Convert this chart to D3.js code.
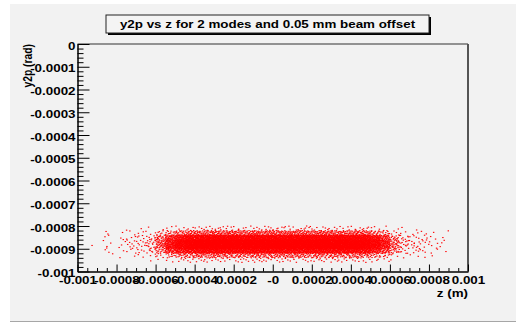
<!DOCTYPE html>
<html>
<head>
<meta charset="utf-8">
<script src="https://cdn.jsdelivr.net/npm/d3@7/dist/d3.min.js"></script>
<style>
  html, body { margin: 0; padding: 0; background: #ffffff; }
  svg { display: block; }
  text { font-family: "Liberation Sans", Arial, Helvetica, sans-serif; font-weight: bold; fill: #000; }
</style>
</head>
<body>
<svg id="chart" width="516" height="322"></svg>
<script>
// ---- chart texts ----
const titleText = "y2p vs z for 2 modes and 0.05 mm beam offset";
const xTitle = "z (m)";
const yTitle = "y2p (rad)";

// ---- axis ranges and ticks ----
const zDomain = [-0.001, 0.001];
const yDomain = [-0.001, 0];
const xMajorTicks = [-0.001, -0.0008, -0.0006, -0.0004, -0.0002, 0, 0.0002, 0.0004, 0.0006, 0.0008, 0.001];
const xTickLabels = ["-0.001", "-0.0008", "-0.0006", "-0.0004", "-0.0002", "-0", "0.0002", "0.0004", "0.0006", "0.0008", "0.001"];
const yMajorTicks = [0, -0.0001, -0.0002, -0.0003, -0.0004, -0.0005, -0.0006, -0.0007, -0.0008, -0.0009, -0.001];
const yTickLabels = ["0", "-0.0001", "-0.0002", "-0.0003", "-0.0004", "-0.0005", "-0.0006", "-0.0007", "-0.0008", "-0.0009", "-0.001"];

// ---- event counts in (z, y2p) cells ----
// z bin edges (m), 40 bins
const zBinEdges = [
  -0.001, -0.00095, -0.0009, -0.00085, -0.0008, -0.00075, -0.0007, -0.00065, -0.0006, -0.00055,
  -0.0005, -0.00045, -0.0004, -0.00035, -0.0003, -0.00025, -0.0002, -0.00015, -0.0001, -0.00005,
  0, 0.00005, 0.0001, 0.00015, 0.0002, 0.00025, 0.0003, 0.00035, 0.0004, 0.00045,
  0.0005, 0.00055, 0.0006, 0.00065, 0.0007, 0.00075, 0.0008, 0.00085, 0.0009, 0.00095, 0.001
];
// y2p bin edges (rad), 8 bins from bottom to top
const yBinEdges = [-0.00096, -0.00094, -0.00092, -0.0009, -0.00088, -0.00086, -0.00084, -0.00082, -0.0008];

// one row of counts per y2p bin, listed along z
const countsY095 = [0,0,0,0,0,0,0,1,1,2,3,4, 4,4,4,3,4,4,5,4,4,4,3,4,4,4,4,4,4, 4,3,2,1,0,0,0,0,0,0,0];
const countsY093 = [0,0,0,1,1,1,2,2,5,9,13,17, 18,18,19,18,17,18,19,18,18,19,18,18,17,18,18,17,17, 17,12,8,3,2,2,1,1,0,0,0];
const countsY091 = [0,0,1,1,1,3,4,6,15,33,50,61, 66,68,69,68,67,68,70,68,67,69,68,68,67,68,69,66,65, 63,46,30,12,5,3,3,2,1,0,0];
const countsY089 = [0,1,1,1,2,4,4,8,22,52,78,96, 104,107,108,108,107,107,109,108,107,108,108,107,107,108,107,105,104, 99,73,47,18,7,5,3,2,1,0,0];
const countsY087 = [0,0,1,1,1,4,5,8,23,52,78,96, 104,107,109,107,106,108,110,107,106,108,107,108,106,107,108,105,103, 99,73,47,18,7,5,4,2,2,0,0];
const countsY085 = [0,0,1,1,2,3,4,6,17,38,57,70, 76,78,79,78,77,78,80,78,77,79,78,78,77,78,79,76,75, 72,53,34,13,6,4,3,2,1,0,0];
const countsY083 = [0,0,1,1,1,2,2,3,6,12,18,22, 24,25,26,25,24,25,26,25,24,25,26,25,24,25,25,24,24, 23,17,11,4,2,2,2,1,1,0,0];
const countsY081 = [0,0,0,0,0,1,1,1,1,2,3,4, 4,4,5,4,4,3,4,5,4,4,4,5,4,4,4,3,4, 4,3,2,1,1,1,0,0,0,0,0];
const cellCounts = [countsY095, countsY093, countsY091, countsY089, countsY087, countsY085, countsY083, countsY081];

// ---- layout ----
const svg = d3.select("#chart");
const plot = { left: 77.5, right: 468, top: 44, bottom: 271.5 };
const textStretch = 1.3;

const x = d3.scaleLinear().domain(zDomain).range([plot.left, plot.right]);
const y = d3.scaleLinear().domain(yDomain).range([plot.bottom, plot.top]);

// canvas background
svg.append("rect").attr("x", 10).attr("y", 4).attr("width", 506).attr("height", 317).attr("fill", "#f2f2f2");
svg.append("line").attr("x1", 10).attr("x2", 516).attr("y1", 321.5).attr("y2", 321.5).attr("stroke", "#a6a6a6").attr("stroke-width", 1);

// frame (top and right sides)
svg.append("line").attr("x1", plot.left).attr("x2", plot.right).attr("y1", plot.top).attr("y2", plot.top)
  .attr("stroke", "#333").attr("stroke-width", 1.2);
svg.append("line").attr("x1", plot.right).attr("x2", plot.right).attr("y1", plot.top).attr("y2", plot.bottom)
  .attr("stroke", "#555").attr("stroke-width", 2);

// ---- scatter points: each cell is filled with its count of dots ----
function halton(index, base) {
  let f = 1, r = 0, i = index;
  while (i > 0) { f /= base; r += f * (i % base); i = Math.floor(i / base); }
  return r;
}
const points = [];
let seq = 0;
cellCounts.forEach((row, j) => {
  row.forEach((n, i) => {
    for (let k = 0; k < n; k++) {
      seq += 1;
      const u = halton(seq, 2), v = halton(seq, 3);
      points.push({
        z: zBinEdges[i] + u * (zBinEdges[i + 1] - zBinEdges[i]),
        yp: yBinEdges[j] + v * (yBinEdges[j + 1] - yBinEdges[j])
      });
    }
  });
});
svg.append("g").attr("class", "points")
  .selectAll("rect").data(points).join("rect")
  .attr("x", d => x(d.z) - 0.7)
  .attr("y", d => y(d.yp) - 0.55)
  .attr("width", 1.4)
  .attr("height", 1.1)
  .attr("fill", "#ff0000");

// ---- axes ----
const xMinor = d3.range(-0.001, 0.001 + 1e-9, 0.00005).filter(v => !xMajorTicks.some(t => Math.abs(t - v) < 1e-9));
const yMinor = d3.range(0, -0.001 - 1e-9, -0.00002).filter(v => !yMajorTicks.some(t => Math.abs(t - v) < 1e-9));

// x axis, ticks pointing into the frame
const gx = svg.append("g").attr("transform", `translate(0,${plot.bottom})`);
gx.append("g").call(d3.axisBottom(x).tickValues(xMinor).tickSize(-3.5).tickFormat(""))
  .call(g => g.select(".domain").remove());
gx.append("g").call(d3.axisBottom(x).tickValues(xMajorTicks).tickSize(-7).tickSizeOuter(0).tickPadding(5)
    .tickFormat((d, i) => xTickLabels[i]))
  .call(g => g.select(".domain").attr("stroke-width", 1.5))
  .call(g => g.selectAll("text").attr("y", 12.5).attr("dy", 0)
    .style("font-size", "10.3px").attr("transform", `scale(${textStretch},1)`));
gx.selectAll("line").attr("stroke", "#000");

// y axis, ticks pointing into the frame
const gy = svg.append("g").attr("transform", `translate(${plot.left},0)`);
gy.append("g").call(d3.axisLeft(y).tickValues(yMinor).tickSize(-6).tickFormat(""))
  .call(g => g.select(".domain").remove());
gy.append("g").call(d3.axisLeft(y).tickValues(yMajorTicks).tickSize(-12).tickSizeOuter(0).tickPadding(2)
    .tickFormat((d, i) => yTickLabels[i]))
  .call(g => g.select(".domain").attr("stroke-width", 1.5))
  .call(g => g.selectAll("text").attr("x", -1.5).attr("dy", "0.5em")
    .style("font-size", "10.3px").attr("transform", `scale(${textStretch},1)`));
gy.selectAll("line").attr("stroke", "#000");

// ---- axis titles ----
svg.append("text")
  .attr("transform", `translate(${plot.right},297) scale(${textStretch},1)`)
  .attr("text-anchor", "end")
  .style("font-size", "10.3px")
  .text(xTitle);
svg.append("text")
  .attr("transform", `translate(32,${plot.top}) rotate(-90) scale(1,${textStretch})`)
  .attr("text-anchor", "end")
  .style("font-size", "10.3px")
  .text(yTitle);

// ---- title box with drop shadow ----
const tb = { x: 106, y: 15, w: 323, h: 18 };
svg.append("rect").attr("x", tb.x + 2).attr("y", tb.y + 2).attr("width", tb.w).attr("height", tb.h).attr("fill", "#000");
svg.append("rect").attr("x", tb.x).attr("y", tb.y).attr("width", tb.w).attr("height", tb.h)
  .attr("fill", "#f4f4f4").attr("stroke", "#222").attr("stroke-width", 1);
svg.append("text")
  .attr("transform", `translate(${tb.x + tb.w / 2},28.3) scale(${textStretch},1)`)
  .attr("text-anchor", "middle")
  .style("font-size", "10.3px")
  .text(titleText);
</script>
</body>
</html>
